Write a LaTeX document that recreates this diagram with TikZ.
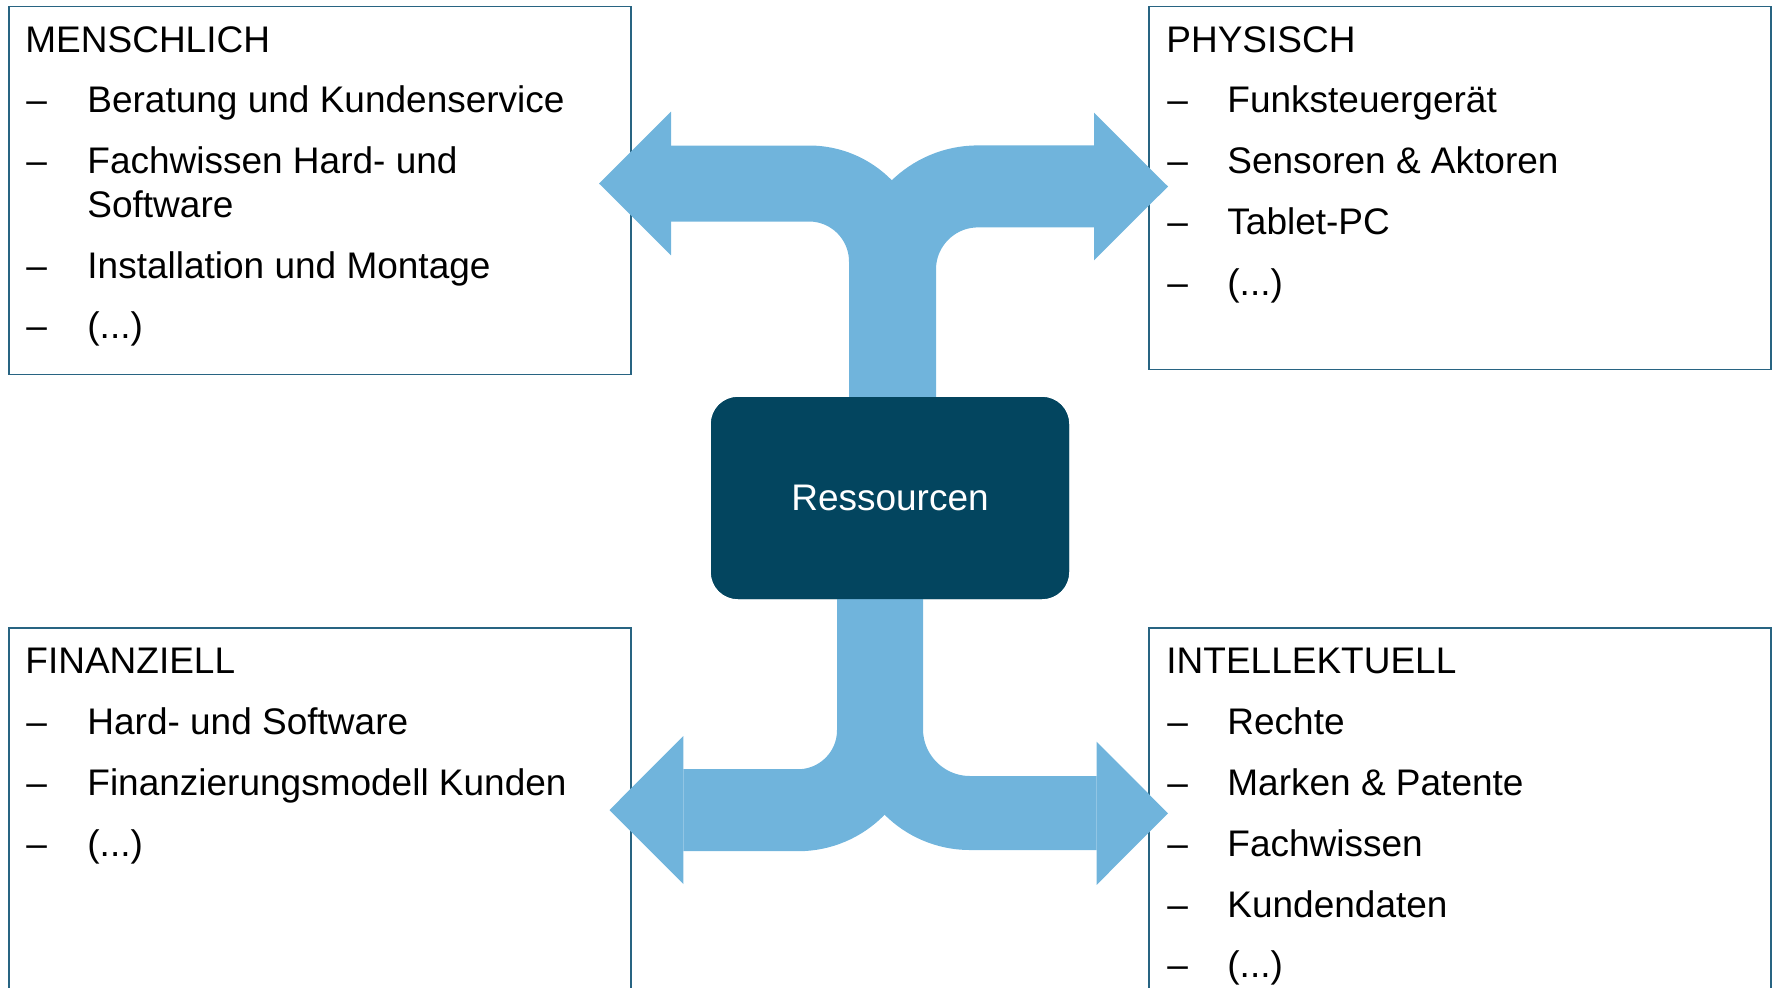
\documentclass[tikz,border=0pt]{standalone}
\usepackage{fontspec}
\setmainfont{Liberation Sans}
\usetikzlibrary{calc}
\definecolor{arrowblue}{RGB}{112,180,220}
\definecolor{coreblue}{RGB}{3,69,95}
\definecolor{frameblue}{RGB}{40,100,130}

\begin{document}
\begin{tikzpicture}[x=0.5pt,y=-0.5pt,
  catbox/.style={draw=frameblue, line width=0.75pt, minimum width=311pt,
    anchor=north west, inner sep=0pt},
  txt/.style={anchor=base west, inner sep=0pt,
    font=\fontsize{18.5}{22.25}\selectfont, align=left},
  branch/.style={draw=arrowblue, line cap=butt},
  head/.style={fill=arrowblue},
  core/.style={fill=coreblue, rounded corners=13.5pt, minimum width=179pt,
    minimum height=101pt, text=white, inner sep=0pt,
    font=\fontsize{18.5}{22.25}\selectfont},
]
\useasboundingbox (0,0) rectangle (1777,987);

% category frames
\node[catbox, minimum height=184pt] (mensch) at (8,5.7) {};
\node[catbox, minimum height=181.6pt] (phys) at (1148,5.7) {};
\node[catbox, minimum height=220pt] (fin) at (8,627) {};
\node[catbox, minimum height=220pt] (intel) at (1148,627) {};

% MENSCHLICH
\node[txt] (mensch-t) at (25,52) {MENSCHLICH};
\node[txt] (m1) at (87,112.5) {Beratung und Kundenservice};
\node[txt] (m1-dash) at (26,112.5) {–};
\node[txt] (m2) at (87,217.5) {Fachwissen Hard- und\\Software};
\node[txt] (m2-dash) at (26,173) {–};
\node[txt] (m3) at (87,278) {Installation und Montage};
\node[txt] (m3-dash) at (26,278) {–};
\node[txt] (m4) at (87,338.5) {(...)};
\node[txt] (m4-dash) at (26,338.5) {–};

% PHYSISCH
\node[txt] (phys-t) at (1166,52) {PHYSISCH};
\node[txt] (p1) at (1227,112.5) {Funksteuergerät};
\node[txt] (p1-dash) at (1167,112.5) {–};
\node[txt] (p2) at (1227,173.5) {Sensoren \& Aktoren};
\node[txt] (p2-dash) at (1167,173.5) {–};
\node[txt] (p3) at (1227,234.5) {Tablet-PC};
\node[txt] (p3-dash) at (1167,234.5) {–};
\node[txt] (p4) at (1227,295.5) {(...)};
\node[txt] (p4-dash) at (1167,295.5) {–};

% FINANZIELL
\node[txt] (fin-t) at (25,673.5) {FINANZIELL};
\node[txt] (f1) at (87,734.5) {Hard- und Software};
\node[txt] (f1-dash) at (26,734.5) {–};
\node[txt] (f2) at (87,795.5) {Finanzierungsmodell Kunden};
\node[txt] (f2-dash) at (26,795.5) {–};
\node[txt] (f3) at (87,856.5) {(...)};
\node[txt] (f3-dash) at (26,856.5) {–};

% INTELLEKTUELL
\node[txt] (intel-t) at (1166,673.5) {INTELLEKTUELL};
\node[txt] (i1) at (1227,734.5) {Rechte};
\node[txt] (i1-dash) at (1167,734.5) {–};
\node[txt] (i2) at (1227,795.5) {Marken \& Patente};
\node[txt] (i2-dash) at (1167,795.5) {–};
\node[txt] (i3) at (1227,856.5) {Fachwissen};
\node[txt] (i3-dash) at (1167,856.5) {–};
\node[txt] (i4) at (1227,917) {Kundendaten};
\node[txt] (i4-dash) at (1167,917) {–};
\node[txt] (i5) at (1227,977.5) {(...)};
\node[txt] (i5-dash) at (1167,977.5) {–};

% central node (placed first so the branches can start from it)
\node[core] (res) at (890,498) {Ressourcen};

% arrow head tips
\coordinate (tip-tl) at (599,183.5);
\coordinate (tip-tr) at (1168,186.5);
\coordinate (tip-bl) at (609.5,810);
\coordinate (tip-br) at (1168,813.3);

% upper branches
\draw[branch, line width=38pt, rounded corners=39pt]
  ($(res.north)+(-3,20)$) -- (887,183.5) -- (671,183.5);
\fill[head] (671,111.7) -- (tip-tl) -- (671,255.3) -- cycle;
\draw[branch, line width=41pt, rounded corners=41.5pt]
  ($(res.north)+(5,20)$) -- (895,186.4) -- (1094,186.4);
\fill[head] (1094,112.7) -- (tip-tr) -- (1094,260.3) -- cycle;

% lower branches
\draw[branch, line width=41pt, rounded corners=40pt]
  ($(res.south)+(-12,-20)$) -- (878,810.2) -- (683.3,810.2);
\fill[head] (683.3,736) -- (tip-bl) -- (683.3,884) -- cycle;
\draw[branch, line width=37pt, rounded corners=42pt]
  ($(res.south)+(-4,-20)$) -- (886,813) -- (1096.6,813);
\fill[head] (1096.6,741.7) -- (tip-br) -- (1096.6,884.9) -- cycle;

% central node drawn again on top of the branches
\node[core] (res-top) at (res) {Ressourcen};
\end{tikzpicture}
\end{document}
